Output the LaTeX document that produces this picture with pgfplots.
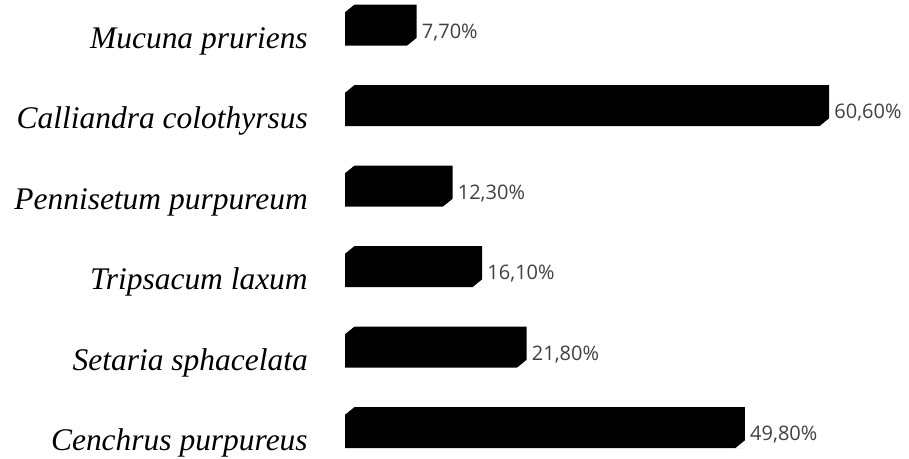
\documentclass[border=0pt]{standalone}
\usepackage{pgfplots}
\pgfplotsset{compat=1.18}
\usepackage{pgfplotstable}
\usepackage{fontspec}
\newfontfamily\labfont{Liberation Serif}
\newfontfamily\valfont{Open Sans}
\definecolor{valgray}{HTML}{404040}
\pgfplotstableread{
idx v
5 7.7
4 60.6
3 12.3
2 16.1
1 21.8
0 49.8
}\datatable
% bevel cut at the bottom-right corner of a bar end
\pgfdeclareplotmark{bevelbr}{%
  \pgfpathmoveto{\pgfpoint{0.4pt}{-15.8pt}}%
  \pgfpathlineto{\pgfpoint{-7.5pt}{-15.8pt}}%
  \pgfpathlineto{\pgfpoint{0.4pt}{-9.375pt}}%
  \pgfpathclose\pgfusepathqfill}
% bevel cut at the top-left corner of a bar start
\pgfdeclareplotmark{beveltl}{%
  \pgfpathmoveto{\pgfpoint{-0.4pt}{15.8pt}}%
  \pgfpathlineto{\pgfpoint{7.5pt}{15.8pt}}%
  \pgfpathlineto{\pgfpoint{-0.4pt}{9.375pt}}%
  \pgfpathclose\pgfusepathqfill}
\begin{document}
\begin{tikzpicture}
\begin{axis}[
  scale only axis, width=681.75pt, height=344.25pt,
  xmin=-44.25, xmax=72.34, ymin=-0.391, ymax=5.311,
  axis line style={draw=none}, tick style={draw=none},
  xtick=\empty, ytick={0,...,5},
  yticklabels={Cenchrus purpureus, Setaria sphacelata, Tripsacum laxum, Pennisetum purpureum, Calliandra colothyrsus, Mucuna pruriens},
  yticklabel style={anchor=base east, inner sep=0pt, xshift=231pt, yshift=-17.25pt, font=\labfont\itshape\fontsize{23.6}{28}\selectfont},
  clip=false,
]
\addplot[xbar, bar shift=0pt, bar width=30.75pt, fill=black, draw=none,
  point meta=explicit,
  nodes near coords={\pgfmathprintnumber[assume math mode=true,use comma,fixed,fixed zerofill,precision=2]{\pgfplotspointmeta}\%},
  every node near coord/.style={anchor=base west, inner sep=0pt, xshift=3.75pt, yshift=-9.75pt, font=\valfont\fontsize{15}{18}\selectfont, text=valgray}]
  table[x expr=\thisrow{v}+1.5, y=idx, meta=v] {\datatable};
\addplot[only marks, mark=bevelbr, mark options={fill=white, draw=none}]
  table[x expr=\thisrow{v}+1.5, y=idx] {\datatable};
\addplot[only marks, mark=beveltl, mark options={fill=white, draw=none}]
  table[x expr=0, y=idx] {\datatable};
\end{axis}
\end{tikzpicture}
\end{document}
